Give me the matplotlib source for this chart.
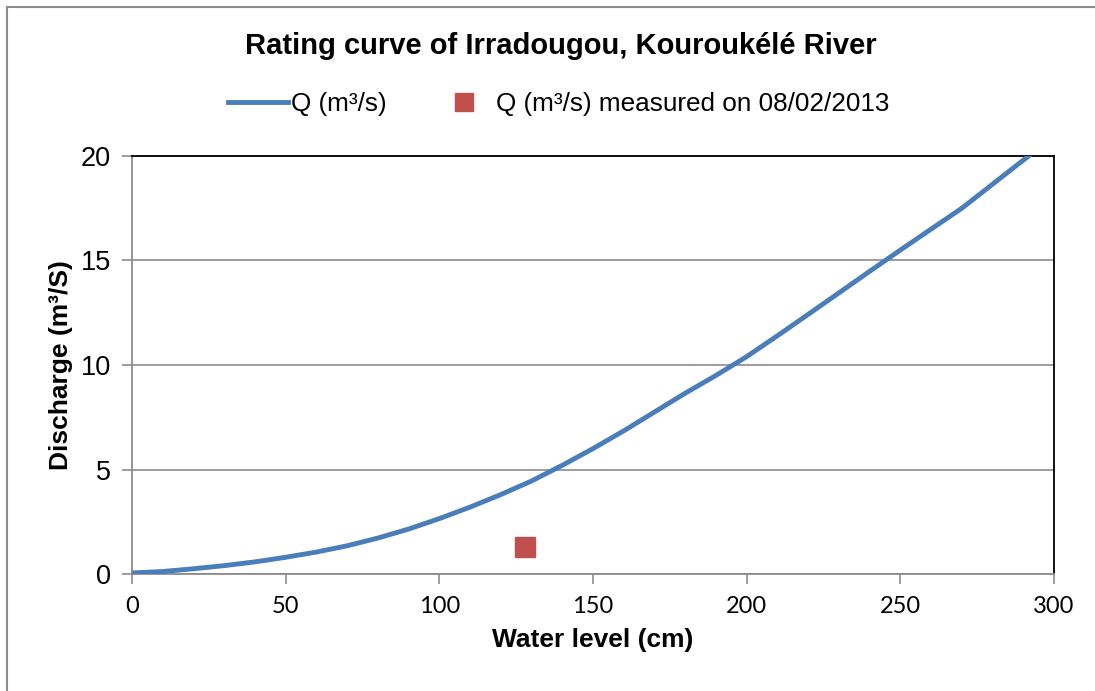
import matplotlib
matplotlib.use("Agg")
import matplotlib.pyplot as plt
from matplotlib.patches import Rectangle
from matplotlib.lines import Line2D

water_level = [0, 10, 20, 30, 40, 50, 60, 70, 80, 90, 100, 110, 120, 130, 140, 150,
               160, 170, 180, 190, 200, 210, 220, 230, 240, 250, 260, 270, 280, 290, 300]
discharge = [0.05, 0.12, 0.25, 0.40, 0.58, 0.80, 1.05, 1.35, 1.72, 2.15, 2.65, 3.20, 3.80,
             4.45, 5.20, 6.00, 6.85, 7.75, 8.65, 9.50, 10.40, 11.40, 12.42, 13.45, 14.48,
             15.50, 16.50, 17.50, 18.65, 19.80, 20.95]
meas_level = [128]
meas_q = [1.3]

x_ticks = [0, 50, 100, 150, 200, 250, 300]
y_ticks = [0, 5, 10, 15, 20]

W, H = 1095, 691
fig = plt.figure(figsize=(W / 100, H / 100), dpi=100)
fig.patches.append(Rectangle((7 / W, -0.1), 1.2, (H - 7) / H + 0.1, transform=fig.transFigure,
                             fill=False, edgecolor="#8c8c8c", linewidth=1.5))

ax = fig.add_axes([132 / W, 1 - 574 / H, (1054 - 132) / W, (574 - 156) / H])
ax.plot(water_level, discharge, color="#4a7ebb", linewidth=3.5, solid_capstyle="round",
        solid_joinstyle="round", zorder=3)
ax.plot(meas_level, meas_q, linestyle="none", marker="s", markersize=14,
        color="#c0504d", markeredgecolor="#c0504d", zorder=4)

ax.set_xlim(0, 300)
ax.set_ylim(0, 20)
ax.set_xticks(x_ticks)
ax.set_yticks(y_ticks)
ax.grid(axis="y", color="#8c8c8c", linewidth=1.2)
ax.set_axisbelow(True)
for s in ["top", "right"]:
    ax.spines[s].set_color("black")
    ax.spines[s].set_linewidth(1.3)
for s in ["left", "bottom"]:
    ax.spines[s].set_color("#8c8c8c")
    ax.spines[s].set_linewidth(1.3)
ax.tick_params(axis="both", direction="out", length=7, width=1.2, color="#8c8c8c")
ax.tick_params(axis="x", pad=9)
ax.tick_params(axis="y", pad=8)
for lbl in ax.get_xticklabels():
    lbl.set_fontfamily("Lato")
    lbl.set_fontsize(17)
for lbl in ax.get_yticklabels():
    lbl.set_fontfamily("Liberation Sans")
    lbl.set_fontsize(19.5)

ax.set_xlabel("Water level (cm)", fontfamily="Liberation Sans", fontweight="bold", fontsize=19, labelpad=8)
ax.set_ylabel("Discharge (m³/S)", fontfamily="Liberation Sans", fontweight="bold", fontsize=19, labelpad=6)

fig.text(561 / W, 1 - 46 / H, "Rating curve of Irradougou, Kouroukélé River", ha="center", va="center",
         fontfamily="Liberation Sans", fontweight="bold", fontsize=21)

handles = [Line2D([], [], color="#4a7ebb", linewidth=3.5),
           Line2D([], [], linestyle="none", marker="s", markersize=13, color="#c0504d")]
fig.legend(handles, ["Q (m³/s)", "Q (m³/s) measured on 08/02/2013"], loc="center",
           bbox_to_anchor=(559 / W, 1 - 104 / H), ncol=2, frameon=False,
           prop={"family": "Liberation Sans", "size": 18.8}, handlelength=2.3,
           handletextpad=0.1, columnspacing=1.8)

fig.savefig("out.png", dpi=100)
